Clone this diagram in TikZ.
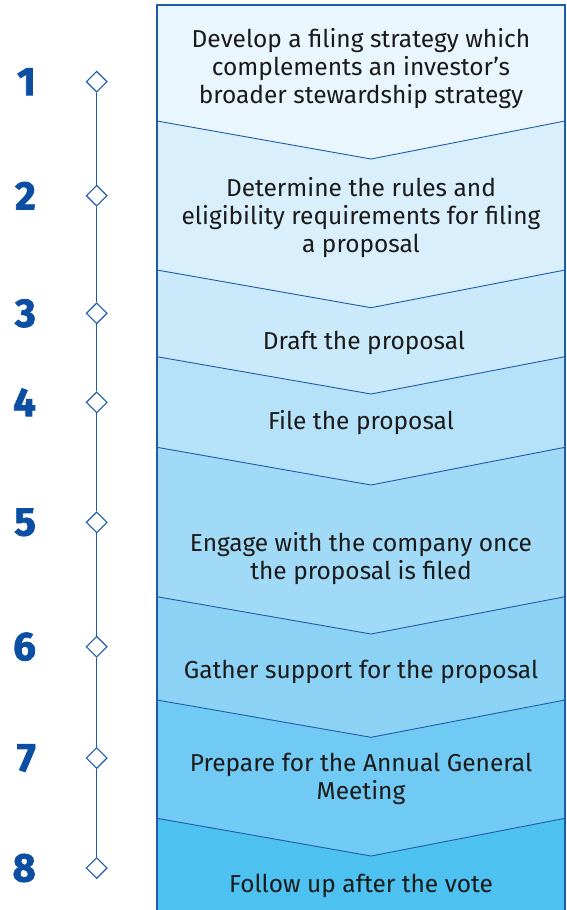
\documentclass[tikz,border=0pt]{standalone}
\usepackage{fontspec}
\setmainfont{Fira Sans}
\newfontfamily\numfont{Fira Sans}[BoldFeatures={FakeBold=2}]
\usetikzlibrary{shapes.geometric}
\definecolor{navy}{HTML}{0B4EA2}
\definecolor{edge}{HTML}{1F5BA8}
\definecolor{ink}{HTML}{1A1A1A}
\definecolor{c1}{HTML}{EAF6FE}
\definecolor{c2}{HTML}{D9EFFC}
\definecolor{c3}{HTML}{CAE9FA}
\definecolor{c4}{HTML}{B6E2F9}
\definecolor{c5}{HTML}{A1DAF7}
\definecolor{c6}{HTML}{8BD2F5}
\definecolor{c7}{HTML}{70CAF3}
\definecolor{c8}{HTML}{4DC2F0}
\tikzset{
  steptext/.style={text=ink, font=\fontsize{24.5}{28}\selectfont, align=center, inner sep=0pt},
  stepnum/.style={text=navy, font=\numfont\bfseries\fontsize{40}{40}\selectfont, anchor=east, inner sep=0pt},
  mark diamond/.style={diamond, draw=edge, fill=white, line width=1.1pt, minimum size=21pt, inner sep=0pt},
  chevron/.style={draw=edge, line width=0.9pt},
  timeline/.style={draw=edge, line width=1.1pt},
}
\begin{document}
\begin{tikzpicture}[x=1pt,y=-1pt]
\useasboundingbox (0,0) rectangle (566,910);
% column edges, chevron tip and bottom
\def\L{157}\def\R{565}\def\T{371}\def\B{912}
% first band: plain rectangle
\fill[c1] (\L,5) rectangle (\R,\B);
% following bands: each starts at the chevron of the one above
\foreach \s/\t/\c in {121/159/c2, 270/307.7/c3, 356.7/394/c4, 447.3/485/c5,
                      596.7/634/c6, 700/737.3/c7, 818.3/856/c8}{
  \fill[\c] (\L,\s) -- (\T,\t) -- (\R,\s) -- (\R,\B) -- (\L,\B) -- cycle;
  \draw[chevron] (\L,\s) -- (\T,\t) -- (\R,\s);
}
% outer frame
\draw[edge, line width=1.3pt] (\L,\B) -- (\L,5) -- (\R,5) -- (\R,\B);

% step texts
\node[steptext] (s1) at (361,69) {Develop a filing strategy which\\complements an investor’s\\broader stewardship strategy};
\node[steptext] (s2) at (361,218) {Determine the rules and\\eligibility requirements for filing\\a proposal};
\node[steptext] (s3) at (364,343) {Draft the proposal};
\node[steptext] (s4) at (361,423) {File the proposal};
\node[steptext] (s5) at (361,559) {Engage with the company once\\the proposal is filed};
\node[steptext] (s6) at (361,672) {Gather support for the proposal};
\node[steptext] (s7) at (361,779) {Prepare for the Annual General\\Meeting};
\node[steptext] (s8) at (361,886) {Follow up after the vote};

% timeline markers
\foreach \i/\y in {1/81.7, 2/195.7, 3/313.3, 4/402.3, 5/522.3, 6/646.7, 7/758, 8/868}{
  \node[mark diamond] (d\i) at (96.7,\y) {};
  \node[stepnum] (n\i) at (36,\y) {\i};
}
\foreach \a/\b in {1/2, 2/3, 3/4, 4/5, 5/6, 6/7, 7/8}{
  \draw[timeline] (d\a) -- (d\b);
}
\end{tikzpicture}
\end{document}
